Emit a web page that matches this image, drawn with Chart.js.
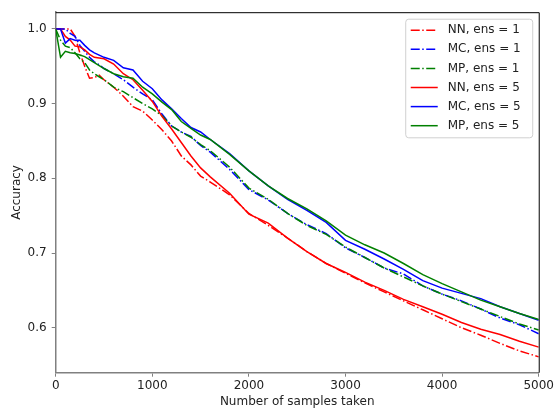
<!DOCTYPE html>
<html>
<head>
<meta charset="utf-8">
<script src="https://cdn.jsdelivr.net/npm/chart.js@4.4.1/dist/chart.umd.min.js"></script>
<style>
  html, body { margin: 0; padding: 0; background: #fff; }
  #wrap { width: 556px; height: 409px; }
</style>
</head>
<body>
<div id="wrap"><canvas id="myChart" width="556" height="409"></canvas></div>
<script>
// samples taken (x)
const samples = [0, 50, 100, 150, 200, 250, 300, 350, 400, 450, 500, 600, 700, 800, 900, 1000,
  1100, 1200, 1300, 1400, 1500, 1600, 1800, 2000, 2200, 2400, 2600, 2800, 3000,
  3200, 3400, 3600, 3800, 4000, 4200, 4400, 4600, 4800, 5000]

const nnEns1 = [1.0, 1.0, 1.0, 1.0, 0.99, 0.968, 0.95, 0.934, 0.935, 0.938, 0.932, 0.922, 0.91, 0.896, 0.89, 0.878,
  0.865, 0.85, 0.83, 0.818, 0.803, 0.795, 0.778, 0.753, 0.737, 0.72, 0.702, 0.686, 0.673,
  0.66, 0.648, 0.636, 0.624, 0.612, 0.6, 0.59, 0.579, 0.569, 0.561]
const mcEns1 = [1.0, 1.0, 1.0, 0.994, 0.99, 0.978, 0.97, 0.962, 0.956, 0.952, 0.947, 0.94, 0.932, 0.922, 0.913, 0.905,
  0.886, 0.87, 0.862, 0.856, 0.844, 0.835, 0.812, 0.785, 0.771, 0.753, 0.738, 0.726, 0.707,
  0.694, 0.68, 0.672, 0.656, 0.645, 0.636, 0.625, 0.613, 0.604, 0.592]
const mpEns1 = [1.0, 0.985, 0.977, 0.975, 0.968, 0.96, 0.955, 0.945, 0.94, 0.936, 0.932, 0.922, 0.916, 0.908, 0.9, 0.893,
  0.884, 0.87, 0.862, 0.855, 0.845, 0.837, 0.815, 0.787, 0.772, 0.753, 0.737, 0.725, 0.708,
  0.694, 0.68, 0.668, 0.656, 0.645, 0.635, 0.625, 0.615, 0.605, 0.597]
const nnEns5 = [1.0, 1.0, 0.99, 0.985, 0.977, 0.976, 0.972, 0.966, 0.962, 0.961, 0.96, 0.953, 0.94, 0.932, 0.918, 0.903,
  0.883, 0.866, 0.848, 0.83, 0.814, 0.802, 0.78, 0.752, 0.74, 0.72, 0.702, 0.686, 0.674,
  0.661, 0.65, 0.638, 0.628, 0.618, 0.607, 0.598, 0.591, 0.582, 0.574]
const mcEns5 = [1.0, 1.0, 0.981, 0.987, 0.985, 0.985, 0.978, 0.972, 0.968, 0.965, 0.962, 0.958, 0.948, 0.945, 0.93, 0.92,
  0.905, 0.893, 0.88, 0.868, 0.862, 0.852, 0.833, 0.81, 0.79, 0.772, 0.757, 0.741, 0.717,
  0.705, 0.692, 0.678, 0.663, 0.653, 0.646, 0.639, 0.628, 0.619, 0.61]
const mpEns5 = [1.0, 0.962, 0.97, 0.968, 0.967, 0.965, 0.963, 0.959, 0.955, 0.951, 0.947, 0.94, 0.936, 0.934, 0.922, 0.913,
  0.902, 0.892, 0.876, 0.867, 0.858, 0.852, 0.832, 0.81, 0.79, 0.773, 0.759, 0.743, 0.724,
  0.711, 0.7, 0.686, 0.671, 0.659, 0.648, 0.637, 0.628, 0.619, 0.611]

const xTicks = [0, 1000, 2000, 3000, 4000, 5000]
const yTicks = [0.6, 0.7, 0.8, 0.9, 1.0]

const dashDot = [9, 2.5, 1.5, 2.5]
const series = [
  { label: 'NN, ens = 1', data: nnEns1, color: '#ff0000', dash: dashDot },
  { label: 'MC, ens = 1', data: mcEns1, color: '#0000ff', dash: dashDot },
  { label: 'MP, ens = 1', data: mpEns1, color: '#008000', dash: dashDot },
  { label: 'NN, ens = 5', data: nnEns5, color: '#ff0000', dash: [] },
  { label: 'MC, ens = 5', data: mcEns5, color: '#0000ff', dash: [] },
  { label: 'MP, ens = 5', data: mpEns5, color: '#008000', dash: [] },
]

const FONT = 'DejaVu Sans'

// matplotlib style legend inside the axes + black top/right spines
const boxLegend = {
  id: 'boxLegend',
  afterDraw(chart) {
    const { ctx, chartArea } = chart
    ctx.save()
    ctx.strokeStyle = '#000'
    ctx.lineWidth = 1
    ctx.beginPath()
    ctx.moveTo(chartArea.left, chartArea.top + 0.5)
    ctx.lineTo(chartArea.right + 0.5, chartArea.top + 0.5)
    ctx.lineTo(chartArea.right + 0.5, chartArea.bottom)
    ctx.stroke()

    const w = 127, rowH = 19.1
    const h = rowH * series.length + 4
    const left = chartArea.right - 6 - w
    const top = chartArea.top + 7
    ctx.beginPath()
    ctx.roundRect(left, top, w, h, 3)
    ctx.fillStyle = 'rgba(255,255,255,0.8)'
    ctx.fill()
    ctx.strokeStyle = '#d0d0d0'
    ctx.stroke()

    ctx.font = `12px "${FONT}"`
    ctx.textBaseline = 'middle'
    ctx.textAlign = 'left'
    chart.data.datasets.forEach((ds, i) => {
      const y = top + 11 + i * rowH
      ctx.beginPath()
      ctx.setLineDash(ds.borderDash || [])
      ctx.strokeStyle = ds.borderColor
      ctx.lineWidth = 1.5
      ctx.moveTo(left + 5, y)
      ctx.lineTo(left + 32, y)
      ctx.stroke()
      ctx.setLineDash([])
      ctx.fillStyle = '#222'
      ctx.fillText(ds.label, left + 42, y)
    })
    ctx.restore()
  }
}

new Chart(document.getElementById('myChart'), {
  type: 'line',
  data: {
    datasets: series.map((s, i) => ({
      label: s.label,
      data: samples.map((x, j) => ({ x, y: s.data[j] })),
      borderColor: s.color,
      backgroundColor: s.color,
      borderDash: s.dash,
      borderWidth: 1.5,
      pointRadius: 0,
      tension: 0,
      fill: false,
      order: series.length - i
    }))
  },
  options: {
    responsive: false,
    animation: false,
    layout: { padding: { left: 10, top: 12, right: 16.7, bottom: 0 } },
    plugins: {
      legend: { display: false },
      tooltip: { enabled: false }
    },
    scales: {
      x: {
        type: 'linear',
        min: 0,
        max: 5000,
        afterFit: scale => { scale.height = 36.3 },
        afterBuildTicks: scale => { scale.ticks = xTicks.map(v => ({ value: v })) },
        ticks: { color: '#222', font: { family: FONT, size: 12 }, padding: 2, maxRotation: 0, callback: v => String(v) },
        grid: { drawOnChartArea: false, drawTicks: true, tickLength: 4, color: '#808080' },
        border: { color: '#808080', width: 1.5 },
        title: { display: true, text: 'Number of samples taken', color: '#222', font: { family: FONT, size: 12 }, padding: 0 }
      },
      y: {
        min: 0.5398,
        max: 1.0224,
        afterFit: scale => { scale.width = 45.7 },
        afterBuildTicks: scale => { scale.ticks = yTicks.map(v => ({ value: v })) },
        ticks: { color: '#222', font: { family: FONT, size: 12 }, padding: 5, callback: v => v.toFixed(1) },
        grid: { drawOnChartArea: false, drawTicks: true, tickLength: 4, color: '#808080' },
        border: { color: '#808080', width: 1.5 },
        title: { display: true, text: 'Accuracy', color: '#222', font: { family: FONT, size: 12 }, padding: 0 }
      }
    }
  },
  plugins: [boxLegend]
})
</script>
</body>
</html>
